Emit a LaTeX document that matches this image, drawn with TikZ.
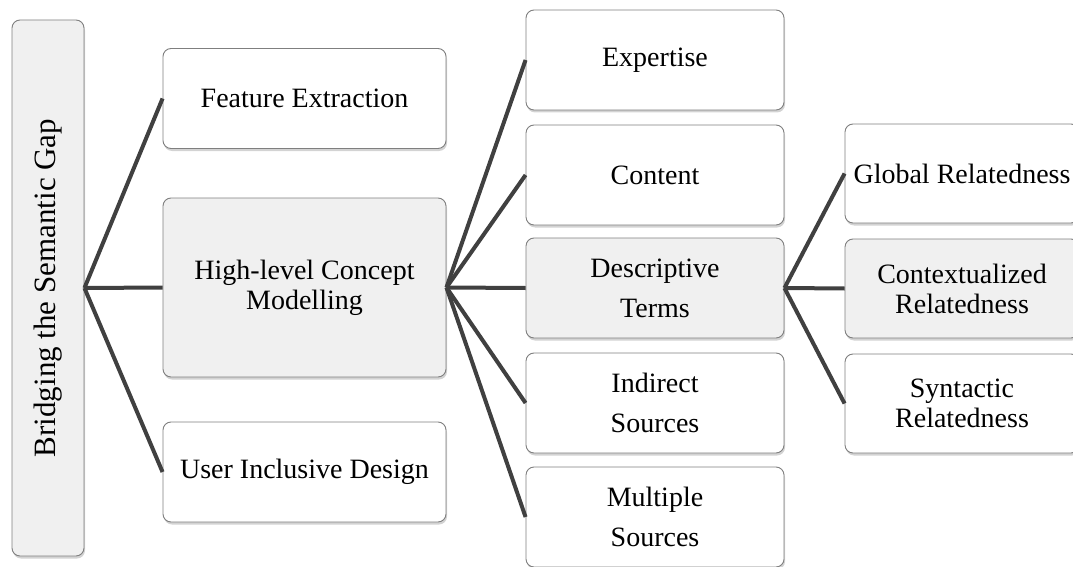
\documentclass[tikz,border=0pt]{standalone}
\usepackage{fontspec}
\setmainfont{Liberation Serif}
\usetikzlibrary{shadows}
\usetikzlibrary{positioning}
\definecolor{boxgray}{HTML}{F0F0F0}
\definecolor{linegray}{HTML}{404040}
\definecolor{bordergray}{HTML}{7F7F7F}
\tikzstyle{topic}=[rectangle,rounded corners=8pt,draw=bordergray,fill=white,line width=0.9pt,inner sep=0pt,align=center,font=\fontsize{28}{30}\selectfont,drop shadow={shadow xshift=1pt,shadow yshift=-2.5pt,opacity=0.35}]
\tikzstyle{firstlevel}=[topic,minimum width=283pt,minimum height=100pt]
\tikzstyle{secondlevel}=[topic,minimum width=258pt,minimum height=100pt]
\tikzstyle{thirdlevel}=[topic,minimum width=234pt,minimum height=99pt]
\tikzstyle{loose}=[font=\fontsize{28}{40}\selectfont]
\tikzstyle{shaded}=[fill=boxgray]
\tikzstyle{branch}=[draw=linegray,line width=4pt]

\begin{document}
\begin{tikzpicture}[x=1pt,y=-1pt]
    \useasboundingbox (0,0) rectangle (1073,567);

    % root
    \node[topic,shaded,minimum width=72pt,minimum height=536pt,font=\fontsize{31}{34}\selectfont] (gap) at (48,288) {\rotatebox{90}{Bridging the Semantic Gap}};

    % first level
    \node[firstlevel] (feat) at (304.5,98.5) {Feature Extraction};
    \node[firstlevel,shaded,minimum height=179pt] (concept) at (304.5,287.5) {High-level Concept\\Modelling};
    \node[firstlevel] (user) at (304.5,472) {User Inclusive Design};

    % second level
    \foreach \pos/\name/\txt in {{(655,60)/expert/Expertise}, {(655,175)/content/Content}}
        \node[secondlevel] (\name) at \pos {\txt};
    \node[secondlevel,shaded,loose] (terms) at (655,288) {Descriptive\\Terms};
    \foreach \pos/\name/\txt in {{(655,403)/indirect/{Indirect\\Sources}}, {(655,517)/multiple/{Multiple\\Sources}}}
        \node[secondlevel,loose] (\name) at \pos {\txt};

    % third level
    \node[thirdlevel] (global) at (962,173.5) {Global Relatedness};
    \node[thirdlevel,shaded] (context) at (962,288.5) {Contextualized\\Relatedness};
    \node[thirdlevel] (syntax) at (962,403.5) {Syntactic\\Relatedness};

    % connect the boxes
    \foreach \source/\dest in {gap/feat, gap/concept, gap/user, concept/expert, concept/content, concept/terms, concept/indirect, concept/multiple, terms/global, terms/context, terms/syntax}
        \path[branch] (\source.east) -- (\dest.west);
\end{tikzpicture}
\end{document}
